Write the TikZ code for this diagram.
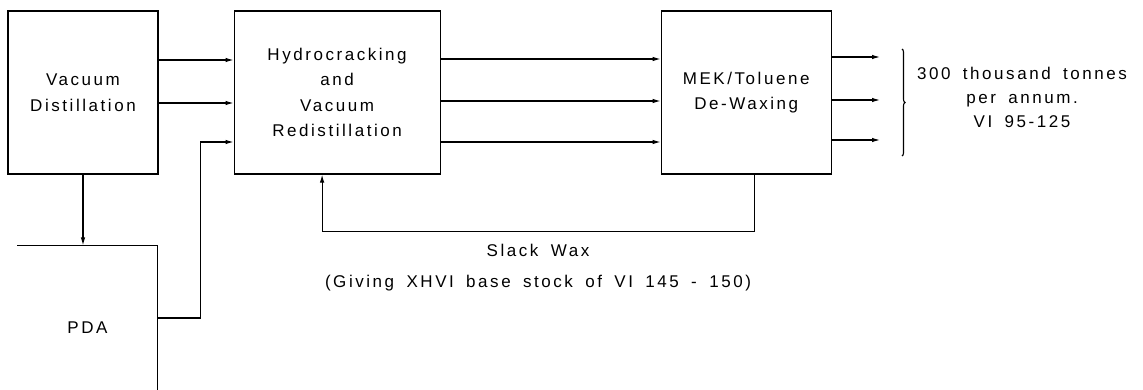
\documentclass[tikz,border=0pt]{standalone}
\usepackage{fontspec}
\setmainfont{Liberation Sans}[LetterSpace=15, WordSpace=1.7]
\usetikzlibrary{positioning,arrows.meta,decorations.pathreplacing}

\begin{document}
\begin{tikzpicture}[
  x=1pt, y=1pt,
  node distance=75pt,
  unit/.style={draw, line width=1.1pt, align=center, inner sep=0pt,
               minimum width=150pt, minimum height=163pt,
               font=\fontsize{17}{25.5}\selectfont},
  flow/.style={-{Latex[length=8pt,width=4.5pt]}, line width=1.1pt},
  tag/.style={align=center, font=\fontsize{17}{24}\selectfont}
]
\useasboundingbox (0,0) rectangle (1143,389);

\node[unit] (vd) at (83,296.5) {Vacuum\\Distillation};
\node[unit, minimum width=206pt, right=of vd] (hc) {Hydrocracking\\and\\Vacuum\\Redistillation};
\node[unit, minimum width=170pt, right=220pt of hc] (mek) {MEK/Toluene\\De-Waxing};
\node[unit, draw=none, minimum width=139pt] (pda) at (87.5,61.5) {PDA};
\draw[line width=1.1pt] (pda.north west) -- (pda.north east) -- (pda.south east);

% feeds
\draw[flow] ([yshift=32.5pt]vd.east) -- ([yshift=32.5pt]vd.east -| hc.west);
\draw[flow] ([yshift=-10.5pt]vd.east) -- ([yshift=-10.5pt]vd.east -| hc.west);
\draw[flow] (vd.south) -- (pda.north -| vd.south);
\draw[flow] ([yshift=9.5pt]pda.east) -- ++(43,0) |- ([yshift=-49.5pt]hc.west);

\foreach \y in {330,288,247}
  \draw[flow] (hc.east |- 0,\y) -- (mek.west |- 0,\y);

% products
\foreach \y [count=\i] in {332,289,249}
  \coordinate (out\i) at (880,\y);
\draw[flow] (mek.east |- out1) -- (out1);
\draw[flow] (mek.east |- out2) -- (out2);
\draw[flow] (mek.east |- out3) -- (out3);
\draw[line width=1.1pt, decorate, decoration={brace, amplitude=3pt, aspect=0.5}] (902,340) -- (902,233);
\node[tag] (prod) at (1022,292) {300 thousand tonnes\\per annum.\\VI 95-125};

% recycle
\draw[flow] ([xshift=8pt]mek.south) -- ++(0,-57) -| ([xshift=-15pt]hc.south);
\node[tag] (wax) at (538,139) {Slack Wax};
\node[tag, below=12pt of wax] (xhvi) {(Giving XHVI base stock of VI 145 - 150)};
\end{tikzpicture}
\end{document}
